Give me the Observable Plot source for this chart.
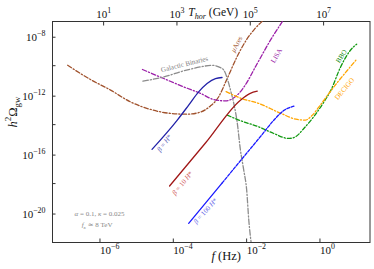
<!DOCTYPE html>
<html><head><meta charset="utf-8">
<script src="https://cdn.jsdelivr.net/npm/d3@7"></script>
<script src="https://cdn.jsdelivr.net/npm/@observablehq/plot@0.6"></script>
<style>html,body{margin:0;padding:0;background:#fff;}</style>
</head><body><div id="chart"></div>
<script>
// ---- tick values ----
const xTicks = [1e-6, 1e-4, 1e-2, 1];
const yTicks = [1e-8, 1e-12, 1e-16, 1e-20];
const yMinorTicks = [1e-10, 1e-14, 1e-18];
const tempTicks = [1e1, 1e3, 1e5, 1e7];     // T_hor (GeV) on the top axis
const fPerGeV = 8.9e-8;                     // frequency (Hz) for T_hor = 1 GeV

// ---- sensitivity curves ----
const aresF = [9.3e-8, 3.9e-7, 1.38e-6, 4.8e-6, 1.7e-5, 5.9e-5, 1.7e-4, 3.9e-4, 7.2e-4, 1.2e-3, 2.0e-3, 3.7e-3, 6.9e-3, 1.15e-2, 1.9e-2];
const aresOmega = [1.07e-10, 1.15e-11, 2.2e-12, 3.5e-13, 1.07e-13, 5.8e-14, 5.1e-14, 7.1e-14, 1.8e-13, 7.2e-13, 1.05e-11, 3.2e-10, 5.4e-9, 2.95e-8, 1.05e-7];

const lisaF = [1.02e-5, 3.9e-5, 1.38e-4, 3.9e-4, 8.9e-4, 1.86e-3, 3.9e-3, 6.2e-3, 1.38e-2, 3.16e-2, 6.8e-2];
const lisaOmega = [5.5e-11, 1.35e-11, 3.6e-12, 1.32e-12, 5.1e-13, 4.1e-13, 1.0e-12, 4.1e-12, 1.41e-10, 5.4e-9, 1.05e-7];

const gbF = [1.05e-5, 3.9e-5, 1.38e-4, 3.9e-4, 8.1e-4, 1.23e-3, 1.7e-3, 2.1e-3, 2.57e-3, 3.16e-3, 3.9e-3, 4.8e-3, 5.9e-3, 7.1e-3, 8.1e-3, 9.5e-3];
const gbOmega = [8.9e-12, 1.74e-11, 4.5e-11, 8.3e-11, 1.07e-10, 8.3e-11, 4.9e-11, 1.35e-11, 2.2e-12, 2.75e-13, 1.48e-14, 1.86e-16, 8.3e-18, 3.6e-19, 3.4e-21, 7.9e-23];

const bboF = [2.1e-3, 4.8e-3, 1.51e-2, 3.9e-2, 0.1, 0.151, 0.257, 0.468, 0.83, 1.45, 2.57, 4.8, 7.1];
const bboOmega = [4.4e-14, 1.86e-14, 7.1e-15, 2.5e-15, 1.15e-15, 1.48e-15, 5.5e-15, 3.2e-14, 2.45e-13, 2.57e-12, 7.9e-11, 1.12e-9, 2.9e-9];

const decigoF = [1.95e-3, 4.8e-3, 1.51e-2, 5.9e-2, 0.17, 0.28, 0.44, 0.72, 1.2, 2.14, 3.98, 7.1];
const decigoOmega = [1.74e-12, 6.3e-13, 2.75e-13, 6.0e-14, 2.24e-14, 2.04e-14, 4.4e-14, 2.1e-13, 1.17e-12, 7.6e-12, 4.9e-11, 2.75e-10];

// ---- phase-transition signals ----
const beta1F = [1.86e-5, 9.1e-5, 1.86e-4, 3.47e-4, 5.9e-4, 1.0e-3, 1.51e-3];
const beta1Omega = [2.1e-16, 2.04e-14, 2.1e-13, 1.66e-12, 6.2e-12, 1.35e-11, 1.58e-11];

const beta10F = [5.6e-5, 5.4e-4, 4.8e-3, 8.9e-3, 1.38e-2];
const beta10Omega = [6.8e-19, 5.9e-16, 4.6e-13, 1.32e-12, 1.86e-12];

const beta100F = [1.86e-4, 1.51e-3, 5.9e-3, 1.7e-2, 3.9e-2, 7.2e-2, 0.138];
const beta100Omega = [2.0e-21, 1.07e-18, 6.6e-17, 1.58e-15, 2.0e-14, 8.9e-14, 1.78e-13];
const beta100DashFrom = 1;

// ---- curve labels ----
const labelF = [1.43e-4, 3.8e-3, 4.6e-2, 2.73, 3.3, 4.06e-5, 1.26e-4, 5.33e-4];
const labelOmega = [1.26e-10, 2.88e-9, 4.8e-10, 4.37e-10, 2.75e-12, 5.6e-16, 1.07e-18, 1.38e-20];
const labelAngle = [-14, -62, -60, -58, -50, -52, -50, -48];
const labelParts = [
  [["Galactic Binaries", ""]],
  [["μ", "i"], ["Ares", ""]],
  [["LISA", ""]],
  [["BBO", ""]],
  [["DECIGO", ""]],
  [["β", "i"], [" = ", ""], ["H", "i"], ["*", ""]],
  [["β", "i"], [" = 10 ", ""], ["H", "i"], ["*", ""]],
  [["β", "i"], [" = 100 ", ""], ["H", "i"], ["*", ""]]
];
const labelColor = ["#7d7d7d", "#a0522d", "#9b1fa8", "#118811", "#ffa500", "#5a5ab8", "#d05a5a", "#6464e8"];

const noteF = [6.9e-7, 5.9e-7];
const noteOmega = [8.5e-21, 1.55e-21];
const noteParts = [
  [["α", "i"], [" = 0.1, ", ""], ["κ", "i"], [" = 0.025", ""]],
  [["f", "i"], ["κ", "isub"], [" ≃ 8 TeV", ""]]
];

// ---- helpers ----
const pow10 = d => "10^" + String(Math.round(Math.log10(d))).replace("-", "−");
const pts = (F, O) => F.map((f, i) => ({f, omega: O[i]}));
const plain = p => p.map(q => q[0]).join("");

const curves = [
  {data: pts(aresF, aresOmega), stroke: "#a0522d", dash: "4.5,2,1.2,2", w: 1.3},
  {data: pts(lisaF, lisaOmega), stroke: "#9b1fa8", dash: "4.5,2,1.2,2", w: 1.3},
  {data: pts(gbF, gbOmega), stroke: "#8c8c8c", dash: "5.5,2,1.2,2", w: 1.3},
  {data: pts(bboF, bboOmega), stroke: "#119911", dash: "4,2,1.2,2", w: 1.3},
  {data: pts(decigoF, decigoOmega), stroke: "#ffa500", dash: "4,2,1.2,2", w: 1.3},
  {data: pts(beta1F, beta1Omega), stroke: "#2222a8", dash: null, w: 1.3},
  {data: pts(beta10F, beta10Omega), stroke: "#a01818", dash: null, w: 1.3},
  {data: pts(beta100F, beta100Omega).slice(0, beta100DashFrom + 1), stroke: "#1a1aff", dash: null, w: 1.3},
  {data: pts(beta100F, beta100Omega).slice(beta100DashFrom), stroke: "#1a1aff", dash: "3,1.5", w: 1.3}
];

const rich = [];
const marks = [
  Plot.frame({stroke: "#333", strokeWidth: 1}),
  Plot.axisX({anchor: "bottom", ticks: xTicks, text: pow10, tickSize: -3.5, tickPadding: 7, label: null, textAnchor: "start", dx: -5.5, fontSize: 11, stroke: "#333", fill: "#111"}),
  Plot.axisX({anchor: "top", ticks: tempTicks.map(t => t * fPerGeV), text: d => pow10(d / fPerGeV), tickSize: -3.5, tickPadding: 7.5, label: null, fontSize: 11, stroke: "#333", fill: "#111"}),
  Plot.axisY({anchor: "left", ticks: yTicks, text: pow10, tickSize: -3.5, tickPadding: 10.5, label: null, fontSize: 11, dy: 1, stroke: "#333", fill: "#111"}),
  Plot.axisY({anchor: "left", ticks: yMinorTicks, text: () => "", tickSize: -3.5, label: null, stroke: "#333"}),
  ...curves.map(c => Plot.line(c.data, {x: "f", y: "omega", stroke: c.stroke, strokeWidth: c.w, strokeDasharray: c.dash, clip: true, curve: "monotone-x"}))
];

labelParts.forEach((p, i) => {
  marks.push(Plot.text([plain(p)], {x: () => labelF[i], y: () => labelOmega[i], rotate: labelAngle[i], fill: labelColor[i], fontSize: 7}));
  rich.push([plain(p), p, 7]);
});
noteParts.forEach((p, i) => {
  marks.push(Plot.text([plain(p)], {x: () => noteF[i], y: () => noteOmega[i], fill: "#888", fontSize: 7}));
  rich.push([plain(p), p, 7]);
});

const xLabel = [["f", "i"], [" (Hz)", ""]];
const topLabel = [["T", "i"], ["hor", "isub"], [" (GeV)", ""]];
const yLabel = [["h", "i"], ["2", "sup"], ["Ω", ""], ["gw", "sub"]];
marks.push(Plot.text([plain(xLabel)], {frameAnchor: "bottom", dx: 15, dy: 17, fontSize: 12.5, fill: "#111"}));
marks.push(Plot.text([plain(topLabel)], {frameAnchor: "top", dx: 2, dy: -13.5, fontSize: 11.5, fill: "#111"}));
marks.push(Plot.text([plain(yLabel)], {frameAnchor: "left", dx: -40, dy: -4.5, rotate: -90, fontSize: 12.5, fill: "#111"}));
rich.push([plain(xLabel), xLabel, 12.5], [plain(topLabel), topLabel, 11.5], [plain(yLabel), yLabel, 12.5]);

const svg = Plot.plot({
  width: 374, height: 269,
  marginLeft: 52, marginRight: 4.5, marginTop: 21, marginBottom: 27,
  x: {type: "log", domain: [3.59e-8, 16.4]},
  y: {type: "log", domain: [1e-22, 1e-7]},
  style: {background: "#fff", fontFamily: "'Liberation Serif', 'DejaVu Serif', serif", fontSize: "11px", color: "#111"},
  marks
});

// rich text: italics, sub/superscripts as tspans
const NS = "http://www.w3.org/2000/svg";
function build(t, parts, fs) {
  t.textContent = "";
  let cur = 0;
  for (const [s, st] of parts) {
    const ts = document.createElementNS(NS, "tspan");
    let off = 0, size = fs;
    if (st.endsWith("sub")) { off = 0.28 * fs; size = 0.7 * fs; }
    if (st === "sup") { off = -0.45 * fs; size = 0.72 * fs; }
    if (st.startsWith("i")) ts.setAttribute("font-style", "italic");
    if (size !== fs) ts.setAttribute("font-size", size);
    if (off !== cur) ts.setAttribute("dy", off - cur);
    cur = off;
    ts.textContent = s;
    t.appendChild(ts);
  }
}
const texts = Array.from(svg.querySelectorAll("text"));
for (const [str, parts, fs] of rich) {
  const t = texts.find(e => e.textContent === str);
  if (t) build(t, parts, fs);
}
for (const t of texts) {
  const m = /^10\^(.+)$/.exec(t.textContent);
  if (m) build(t, [["10", ""], [m[1], "sup"]], 11);
}
document.getElementById("chart").appendChild(svg);
</script></body></html>
